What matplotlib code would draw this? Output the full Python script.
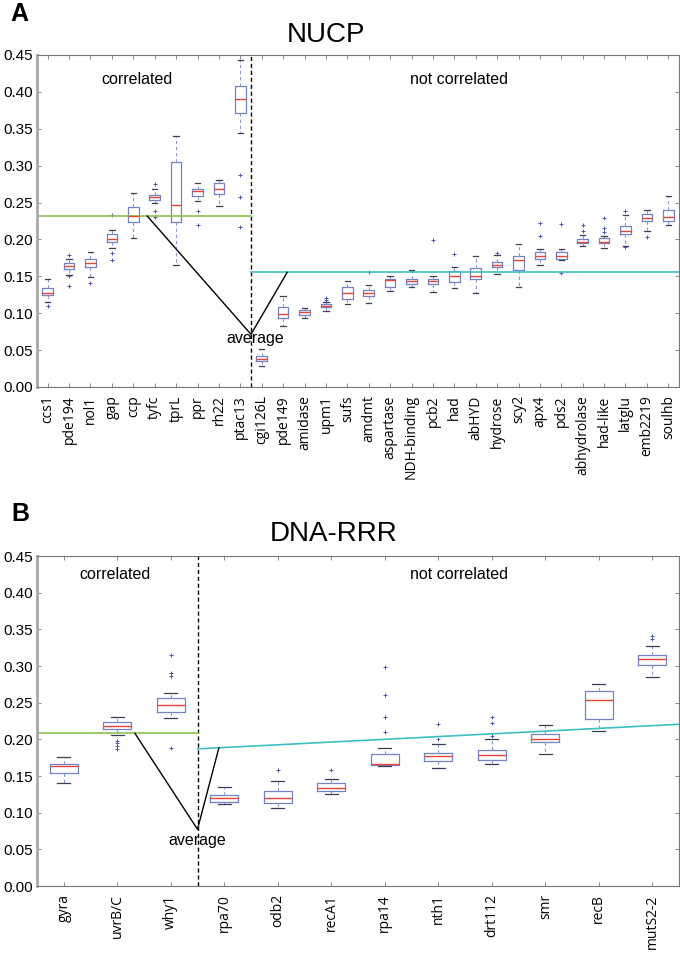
"""
Box plots of per-gene values for two gene groups (NUCP and DNA-RRR),
split into correlated / not correlated sets with their average levels.
"""

import matplotlib.pyplot as plt

plt.rcParams["font.family"] = ["Liberation Sans", "DejaVu Sans"]

# ---- panel A: NUCP ----
A_GENES = [
    "ccs1", "pde194", "nol1", "gap", "ccp", "tyfc", "tprL", "ppr", "rh22", "ptac13",
    "cgi126L", "pde149", "amidase", "upm1", "sufs", "amdmt", "aspartase",
    "NDH-binding", "pcb2", "had", "abHYD", "hydrose", "scy2", "apx4", "pds2",
    "abhydrolase", "had-like", "latglu", "emb2219", "soulhb",
]
A_LO = [0.115, 0.152, 0.149, 0.188, 0.202, 0.250, 0.166, 0.252, 0.245, 0.344,
        0.029, 0.083, 0.093, 0.103, 0.113, 0.114, 0.130, 0.136, 0.129, 0.134,
        0.128, 0.153, 0.136, 0.165, 0.172, 0.191, 0.188, 0.191, 0.211, 0.220]
A_Q1 = [0.125, 0.160, 0.163, 0.196, 0.223, 0.253, 0.224, 0.259, 0.262, 0.371,
        0.035, 0.093, 0.097, 0.108, 0.119, 0.123, 0.136, 0.140, 0.139, 0.142,
        0.146, 0.163, 0.158, 0.173, 0.174, 0.195, 0.195, 0.207, 0.225, 0.225]
A_MED = [0.128, 0.164, 0.168, 0.201, 0.232, 0.257, 0.247, 0.266, 0.268, 0.391,
         0.038, 0.099, 0.101, 0.110, 0.127, 0.127, 0.145, 0.144, 0.144, 0.151,
         0.150, 0.166, 0.172, 0.177, 0.178, 0.197, 0.197, 0.212, 0.229, 0.230]
A_Q3 = [0.134, 0.168, 0.173, 0.207, 0.244, 0.260, 0.305, 0.268, 0.276, 0.408,
        0.042, 0.109, 0.104, 0.112, 0.135, 0.131, 0.146, 0.147, 0.147, 0.157,
        0.161, 0.170, 0.178, 0.183, 0.183, 0.200, 0.202, 0.218, 0.235, 0.240]
A_HI = [0.146, 0.173, 0.183, 0.213, 0.263, 0.268, 0.340, 0.277, 0.281, 0.443,
        0.051, 0.124, 0.107, 0.115, 0.143, 0.138, 0.151, 0.158, 0.151, 0.163,
        0.177, 0.179, 0.194, 0.187, 0.187, 0.206, 0.204, 0.233, 0.240, 0.259]
A_FLIERS = [
    [0.110], [0.179, 0.150, 0.137], [0.141], [0.233, 0.181, 0.172], [],
    [0.275, 0.238, 0.231], [], [0.239, 0.220], [], [0.287, 0.258, 0.217],
    [], [], [], [0.120, 0.118], [], [0.156], [], [], [0.199], [0.180],
    [], [0.182], [], [0.222, 0.205], [0.221, 0.155], [0.220, 0.211],
    [0.229, 0.216, 0.210], [0.239, 0.190], [0.203], [],
]

# ---- panel B: DNA-RRR ----
B_GENES = ["gyra", "uvrB/C", "why1", "rpa70", "odb2", "recA1", "rpa14", "nth1",
           "drt112", "smr", "recB", "mutS2-2"]
B_LO = [0.141, 0.206, 0.229, 0.112, 0.107, 0.126, 0.164, 0.161, 0.166, 0.180, 0.211, 0.285]
B_Q1 = [0.154, 0.214, 0.237, 0.115, 0.113, 0.130, 0.165, 0.170, 0.172, 0.196, 0.228, 0.301]
B_MED = [0.163, 0.218, 0.247, 0.120, 0.120, 0.133, 0.166, 0.177, 0.178, 0.200, 0.254, 0.310]
B_Q3 = [0.166, 0.223, 0.256, 0.124, 0.129, 0.140, 0.180, 0.181, 0.185, 0.207, 0.266, 0.315]
B_HI = [0.176, 0.231, 0.263, 0.135, 0.143, 0.146, 0.188, 0.193, 0.200, 0.220, 0.275, 0.327]
B_FLIERS = [
    [], [0.198, 0.195, 0.191, 0.187], [0.315, 0.290, 0.286, 0.188], [], [0.158],
    [0.158], [0.299, 0.261, 0.231, 0.210], [0.221, 0.200],
    [0.231, 0.222, 0.204], [], [], [0.341, 0.337],
]

# group averages (correlated level, not-correlated start/end, V apex)
A_CORR_AVG = 0.2317
A_NOT_AVG = (0.1554, 0.1554)
A_APEX = 0.0714
B_CORR_AVG = 0.2082
B_NOT_AVG = (0.187, 0.2205)
B_APEX = 0.0773

BOX_EDGE = "#7282c4"
WHISK = "#8a98cc"
CAP = "#3a3f55"
MED = "#e8443a"
FLIER = "#4a5aa5"
GREEN = "#8cc152"
CYAN = "#3cbfc4"
SPINE = "#777777"


def box_stats(names, lo, q1, med, q3, hi, fliers):
    return [
        dict(label=n, whislo=a, q1=b, med=c, q3=d, whishi=e, fliers=f)
        for n, a, b, c, d, e, f in zip(names, lo, q1, med, q3, hi, fliers)
    ]


def draw_panel(ax, stats, split, corr_avg, not_avg, apex, arm_x, box_w):
    n = len(stats)
    ax.bxp(
        stats,
        positions=range(1, n + 1),
        widths=box_w,
        capwidths=0.25,
        boxprops=dict(color=BOX_EDGE, lw=0.9),
        whiskerprops=dict(color=WHISK, lw=0.8, linestyle=(0, (3, 2.5))),
        capprops=dict(color=CAP, lw=0.9),
        medianprops=dict(color=MED, lw=1.0),
        flierprops=dict(marker="+", markeredgecolor=FLIER, markersize=3,
                        markeredgewidth=0.7, linestyle="none"),
        manage_ticks=False,
    )
    ax.set_xlim(0.5, n + 0.5)
    ax.set_ylim(0, 0.45)

    ax.axvline(split, color="black", lw=1.0, linestyle=(0, (3, 2)))
    ax.plot([0.5, split], [corr_avg, corr_avg], color=GREEN, lw=1.2)
    ax.plot([split, n + 0.5], list(not_avg), color=CYAN, lw=1.2)

    # V from both average lines down to the common average
    slope = (not_avg[1] - not_avg[0]) / (n + 0.5 - split)
    right_y = not_avg[0] + slope * (arm_x[1] - split)
    ax.plot([arm_x[0], split, arm_x[1]], [corr_avg, apex, right_y],
            color="black", lw=1.0)

    ax.set_xticks(range(1, n + 1))
    ax.set_xticklabels([s["label"] for s in stats], rotation=90,
                       family="Open Sans", fontsize=10)
    ax.set_yticks([i * 0.05 for i in range(10)])
    ax.set_yticklabels([f"{i * 0.05:.2f}" for i in range(10)], fontsize=11)
    ax.tick_params(axis="both", direction="in", top=True, right=True,
                   length=3, width=0.6, color=SPINE)
    ax.tick_params(axis="x", pad=6)
    ax.tick_params(axis="y", pad=3)
    for side, sp in ax.spines.items():
        sp.set_color(SPINE)
        sp.set_linewidth(0.8)
    ax.spines["left"].set_color("#a8a8a8")
    ax.spines["left"].set_linewidth(2.0)


fig = plt.figure(figsize=(6.8, 9.56), dpi=100)

ax_a = fig.add_axes([37 / 680, 1 - 387 / 956, 642 / 680, 332 / 956])
draw_panel(ax_a, box_stats(A_GENES, A_LO, A_Q1, A_MED, A_Q3, A_HI, A_FLIERS),
           10.5, A_CORR_AVG, A_NOT_AVG, A_APEX, (5.65, 12.19), 0.5)
ax_a.text(5.17, 0.417, "correlated", ha="center", va="center", fontsize=11.5)
ax_a.text(20.24, 0.417, "not correlated", ha="center", va="center", fontsize=11.5)
ax_a.text(10.7, 0.0664, "average", ha="center", va="center", fontsize=11.5)

ax_b = fig.add_axes([37 / 680, 1 - 886 / 956, 642 / 680, 330 / 956])
draw_panel(ax_b, box_stats(B_GENES, B_LO, B_Q1, B_MED, B_Q3, B_HI, B_FLIERS),
           3.5, B_CORR_AVG, B_NOT_AVG, B_APEX, (2.33, 3.9), 0.52)
ax_b.text(1.96, 0.425, "correlated", ha="center", va="center", fontsize=11.5)
ax_b.text(8.39, 0.425, "not correlated", ha="center", va="center", fontsize=11.5)
ax_b.text(3.5, 0.0614, "average", ha="center", va="center", fontsize=11.5)

fig.text(326 / 680, 1 - 35 / 956, "NUCP", ha="center", va="center", fontsize=20)
fig.text(334 / 680, 1 - 534 / 956, "DNA-RRR", ha="center", va="center", fontsize=20)
fig.text(19 / 680, 1 - 14 / 956, "A", ha="center", va="center",
         fontsize=18, fontweight="bold")
fig.text(20 / 680, 1 - 514 / 956, "B", ha="center", va="center",
         fontsize=18, fontweight="bold")

fig.savefig("out.png", dpi=100)
plt.close(fig)
